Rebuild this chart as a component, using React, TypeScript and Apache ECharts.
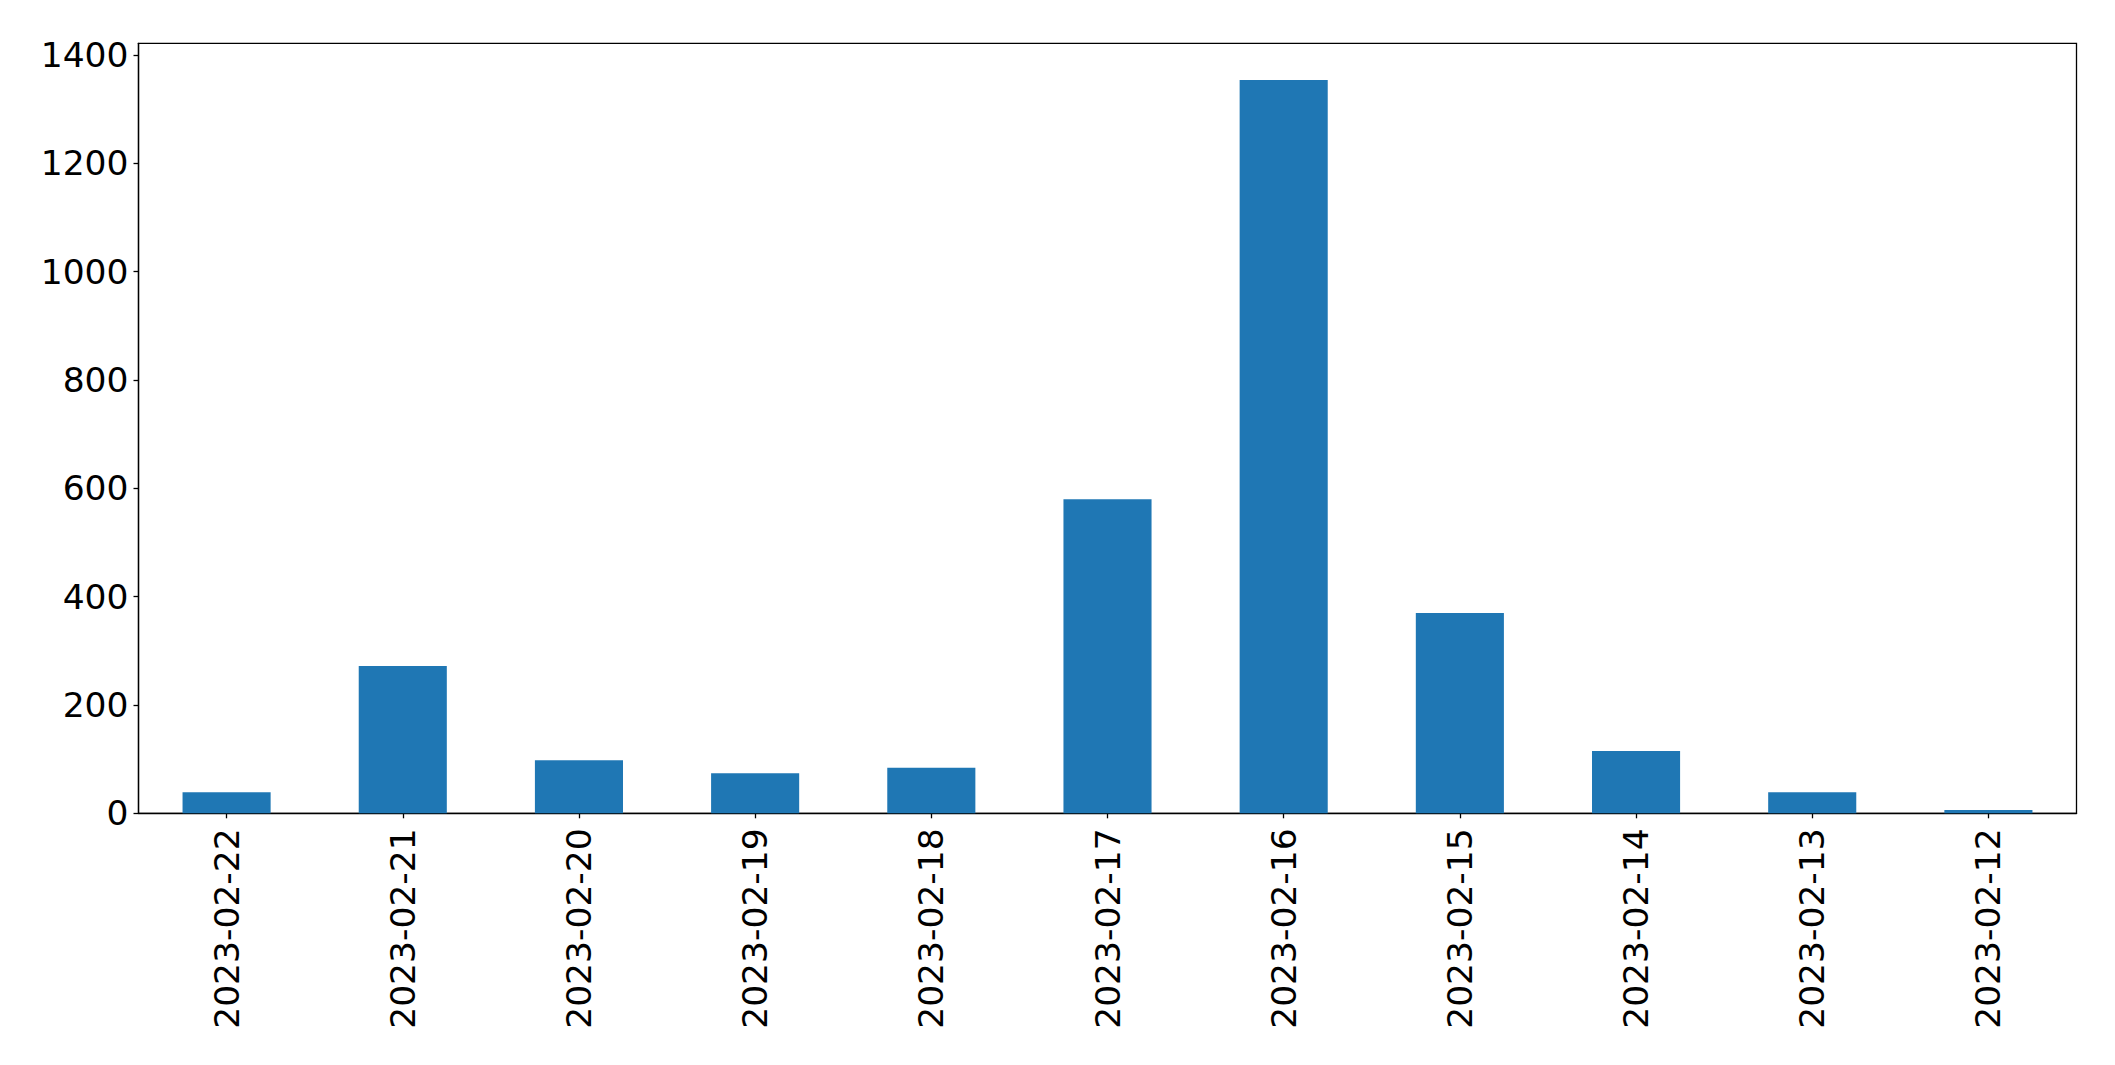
import React, { useEffect, useRef } from "react";
import * as echarts from "echarts";

const categories = [
  "2023-02-22",
  "2023-02-21",
  "2023-02-20",
  "2023-02-19",
  "2023-02-18",
  "2023-02-17",
  "2023-02-16",
  "2023-02-15",
  "2023-02-14",
  "2023-02-13",
  "2023-02-12",
];
const counts = [39, 272, 98, 74, 84, 580, 1354, 370, 115, 39, 6];
const yMax = Math.max(...counts) * 1.05;

export default function App() {
  const ref = useRef<HTMLDivElement>(null);
  useEffect(() => {
    if (!ref.current) return;
    const chart = echarts.init(ref.current, null, { renderer: "svg" });
    const font = "DejaVu Sans";
    chart.setOption({
      animation: false,
      backgroundColor: "#ffffff",
      grid: {
        left: 138.5,
        right: 38.5,
        top: 43.3,
        bottom: 251.7,
        show: true,
        borderColor: "#000",
        borderWidth: 1.3,
        backgroundColor: "transparent",
      },
      xAxis: {
        type: "category",
        data: categories,
        boundaryGap: true,
        axisLine: { show: true, lineStyle: { color: "#000", width: 1.3 } },
        axisTick: { show: true, alignWithLabel: true, length: 5, lineStyle: { color: "#000", width: 1.3 } },
        axisLabel: {
          rotate: 90,
          interval: 0,
          margin: 15,
          color: "#000",
          fontFamily: font,
          fontSize: 34.5,
        },
        splitLine: { show: false },
      },
      yAxis: {
        type: "value",
        min: 0,
        max: yMax,
        interval: 200,
        axisLine: { show: true, lineStyle: { color: "#000", width: 1.3 } },
        axisTick: { show: true, length: 5, lineStyle: { color: "#000", width: 1.3 } },
        axisLabel: {
          margin: 10,
          color: "#000",
          fontFamily: font,
          fontSize: 34.5,
          showMaxLabel: false,
          formatter: (v: number) => (v % 200 === 0 ? String(v) : ""),
        },
        splitLine: { show: false },
      },
      series: [
        {
          type: "bar",
          data: counts,
          barWidth: "50%",
          itemStyle: { color: "#1f77b4" },
        },
      ],
    });
    return () => chart.dispose();
  }, []);
  return (
    <div
      ref={ref}
      style={{ position: "fixed", left: 0, top: 0, width: 2115, height: 1065, background: "#fff" }}
    />
  );
}
